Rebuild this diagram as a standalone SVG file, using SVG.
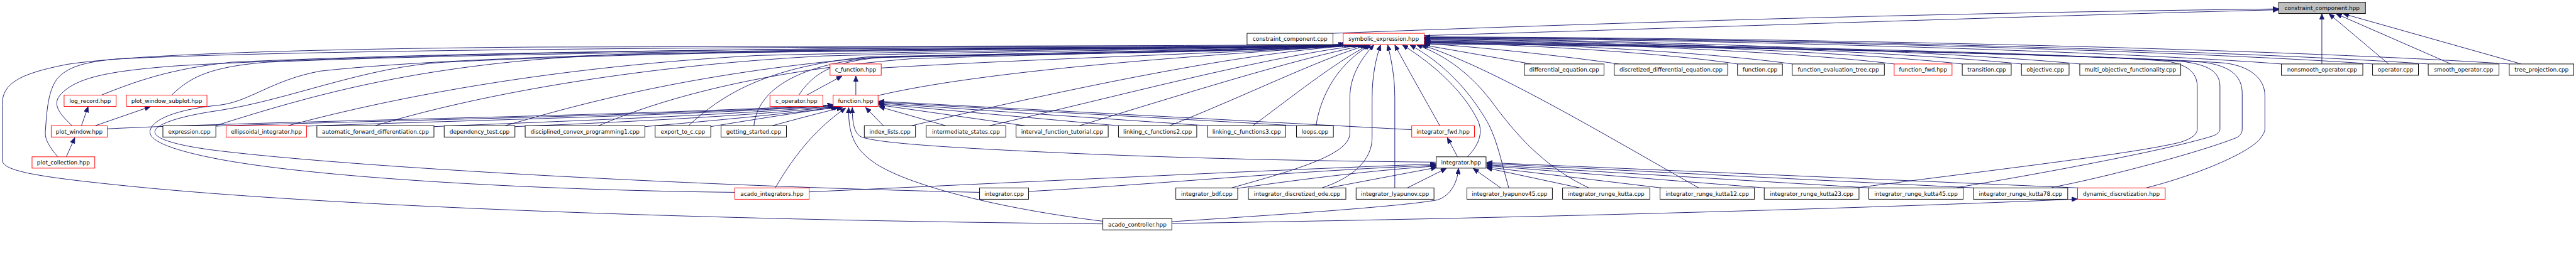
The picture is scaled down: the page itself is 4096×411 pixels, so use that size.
<svg xmlns="http://www.w3.org/2000/svg" width="4096" height="411" viewBox="0 0 4096 411">
<style>
.n rect{fill:#ffffff;stroke:#000000;stroke-width:1.33}
.n.r rect{stroke:#ff0000}
.n.g rect{fill:#bfbfbf}
.n text{font-family:"DejaVu Sans","Liberation Sans",sans-serif;font-size:12.6px;text-anchor:middle;fill:#000000}
.e path{fill:none;stroke:#191970;stroke-width:1.33;marker-end:url(#ah)}
</style>
<defs>
<marker id="ah" markerUnits="userSpaceOnUse" viewBox="0 0 13 11" markerWidth="13" markerHeight="11" refX="13" refY="5.5" orient="auto">
<path d="M0,0 L13,5.5 L0,11 Z" fill="#191970" stroke="#191970" stroke-width="1"/>
</marker>
</defs>
<rect x="0" y="0" width="4096" height="411" fill="#ffffff"/>
<g transform="scale(0.707671)">
<g id="edges" class="e">
<!-- to constraint_component.hpp -->
<path d="M2995,75 C3600,52 4300,30 5120,20"/>
<path d="M3200,80 C3800,63 4600,35 5120,22"/>
<path d="M5217,144 L5217,31"/>
<path d="M5367,144 L5233,31"/>
<path d="M5507,144 L5249,31"/>
<path d="M5665,144 L5265,31"/>
<!-- to symbolic_expression.hpp from the right -->
<path d="M3440,144 C3380,133 3260,112 3196,101"/>
<path d="M3637,144 C3520,127 3330,106 3201,98"/>
<path d="M3904,144 C3760,122 3450,100 3201,96"/>
<path d="M4027,144 C3860,120 3500,98 3201,94"/>
<path d="M4256,144 C4050,118 3580,96 3201,92"/>
<path d="M4409,144 C4170,118 3620,94 3201,90"/>
<path d="M4542,144 C4280,117 3660,92 3201,88"/>
<path d="M4673,144 C4380,116 3700,90 3201,87"/>
<path d="M5126,144 C4750,115 3850,88 3201,86"/>
<path d="M5331,144 C4900,114 3950,87 3201,85"/>
<path d="M5456,144 C5000,113 4000,86 3201,84"/>
<path d="M5638,144 C5150,112 4100,85 3201,83"/>
<path d="M4177,422 C4500,380 4800,345 4900,320 C4930,310 4937,300 4937,290 L4937,195 C4937,160 4910,145 4870,138 C4600,115 3600,98 3201,93"/>
<path d="M4398,422 C4650,380 4900,330 4975,305 C4985,300 4988,295 4988,290 L4988,195 C4988,160 4960,145 4900,138 C4600,118 3600,100 3201,95"/>
<path d="M4610,422 C4750,395 4950,340 5025,310 C5035,305 5038,298 5038,290 L5038,210 C5038,170 5010,148 4950,140 C4650,120 3600,100 3201,97"/>
<path d="M4822,423 C4950,390 5060,340 5080,310 C5087,300 5089,295 5089,290 L5089,215 C5089,180 5060,150 5000,142 C4700,120 3600,101 3201,99"/>
<!-- to symbolic_expression.hpp from below -->
<path d="M2767,423 C2900,385 3033,350 3033,300 L3033,220 C3033,170 3060,130 3087,101"/>
<path d="M2970,423 C3040,400 3083,360 3083,310 L3083,220 C3083,170 3092,130 3102,101"/>
<path d="M3134,423 L3134,220 C3134,170 3125,130 3118,101"/>
<path d="M3235,283 C3200,220 3160,150 3134,101"/>
<path d="M3297,353 C3320,330 3335,300 3320,270 C3290,210 3230,150 3151,101"/>
<path d="M3390,423 C3375,370 3365,320 3345,280 C3300,200 3240,140 3168,101"/>
<path d="M3570,423 C3480,380 3420,320 3360,240 C3310,170 3250,125 3183,101"/>
<path d="M3817,423 C3600,300 3350,150 3193,101"/>
<!-- to symbolic_expression.hpp from the left -->
<path d="M2478,504 C1500,495 700,460 300,420 C80,398 5,385 5,360 L5,235 C5,185 50,165 150,145 C300,122 700,110 1200,106 C2000,104 2800,103 3020,100"/>
<path d="M130,353 C110,330 100,312 102,295 C105,250 108,205 128,178 C150,152 185,140 260,133 C600,115 1400,108 2000,106 C2500,105 2850,104 3024,100"/>
<path d="M162,283 C140,262 118,240 132,218 C165,175 240,160 400,148 C800,125 1500,112 2100,108 C2600,106 2880,105 3028,100"/>
<path d="M228,214 C300,185 380,155 520,140 C1000,118 1700,110 2200,108 C2650,107 2890,106 3032,100"/>
<path d="M386,214 C430,170 480,150 600,140 C1000,122 1800,112 2300,109 C2700,108 2900,107 3036,100"/>
<path d="M1651,433 C1200,428 700,400 480,356 C390,338 335,318 337,296 C340,268 400,246 490,237 C560,230 610,180 720,160 C1100,118 2000,110 2400,109 C2750,108 2920,107 3040,100"/>
<path d="M2201,433 C1600,420 800,378 480,338 C395,327 346,312 348,296 C350,280 400,262 490,249 C650,225 820,150 1000,140 C1500,115 2200,110 2500,109 C2800,108 2930,107 3042,100"/>
<path d="M484,283 C700,215 950,140 1400,122 C2000,112 2800,110 3044,100"/>
<path d="M647,283 C900,215 1250,150 1700,125 C2200,112 2800,110 3046,100"/>
<path d="M843,283 C1050,220 1400,150 1850,126 C2300,114 2820,111 3048,100"/>
<path d="M1135,283 C1300,235 1550,165 1950,130 C2400,116 2840,112 3050,100"/>
<path d="M1345,283 C1480,225 1700,160 2050,132 C2500,118 2850,113 3052,100"/>
<path d="M1547,283 C1620,215 1720,150 1950,128 C2400,118 2860,114 3054,100"/>
<path d="M1694,283 C1700,220 1760,150 1960,130 C2450,119 2870,115 3056,100"/>
<path d="M1795,214 C1830,160 1880,135 2000,128 C2450,120 2880,116 3058,100"/>
<path d="M1980,153 C2400,128 2850,118 3060,100"/>
<path d="M1973,215 C2250,150 2800,120 3062,100"/>
<path d="M2048,283 C2400,200 2800,115 3064,101"/>
<path d="M2223,283 C2500,220 2850,125 3067,101"/>
<path d="M2425,283 C2650,215 2900,135 3070,101"/>
<path d="M2628,283 C2800,215 2960,135 3073,101"/>
<path d="M2815,283 C2900,220 3000,140 3076,101"/>
<path d="M2957,283 C2968,210 3010,140 3080,101"/>
<!-- to function.hpp -->
<path d="M241,290 C600,272 1400,262 1872,236"/>
<path d="M484,284 C800,272 1450,262 1873,237"/>
<path d="M689,284 C1000,272 1500,262 1874,238"/>
<path d="M975,285 C1200,275 1600,262 1876,239"/>
<path d="M1157,285 C1400,275 1700,260 1879,240"/>
<path d="M1449,285 C1600,272 1780,255 1882,241"/>
<path d="M1597,285 C1700,268 1800,252 1886,241"/>
<path d="M1735,283 C1790,268 1850,252 1893,242"/>
<path d="M1742,423 C1790,340 1840,285 1900,243"/>
<path d="M2478,498 C2250,470 2050,420 1970,370 C1925,340 1905,310 1907,242"/>
<path d="M3227,365 C2900,362 2600,355 2300,340 C2050,328 1960,318 1935,308 C1920,300 1915,280 1915,242"/>
<path d="M1985,283 L1945,242"/>
<path d="M2125,283 L1975,240"/>
<path d="M2303,283 L1974,236"/>
<path d="M2513,283 L1974,234"/>
<path d="M2713,283 L1974,232"/>
<path d="M2913,283 L1974,230"/>
<path d="M3172,292 L1974,228"/>
<!-- to c_function.hpp -->
<path d="M1923,214 L1923,171"/>
<path d="M1813,214 L1892,171"/>
<!-- plot headers -->
<path d="M183,283 L198,240"/>
<path d="M214,283 L338,240"/>
<path d="M149,353 L168,310"/>
<!-- to integrator_fwd.hpp -->
<path d="M3275,353 L3252,310"/>
<!-- to integrator.hpp -->
<path d="M1818,432 C2300,410 2800,385 3227,369"/>
<path d="M2311,431 C2600,415 2900,385 3227,372"/>
<path d="M2781,424 C2950,400 3100,382 3227,374"/>
<path d="M2985,423 C3080,405 3170,388 3228,377"/>
<path d="M2633,499 C2850,485 3150,465 3230,450 C3260,440 3275,410 3277,379"/>
<path d="M3162,423 L3250,379"/>
<path d="M3372,423 L3310,379"/>
<path d="M3550,423 L3340,378"/>
<path d="M3733,423 L3340,376"/>
<path d="M3966,423 L3340,373"/>
<path d="M4201,423 L3340,371"/>
<path d="M4436,423 L3340,368"/>
<path d="M4670,423 L3340,366"/>
<!-- to dynamic_discretization.hpp -->
<path d="M2633,503 C3500,490 4300,465 4668,448"/>
</g>
<g id="nodes">
<g id="n_cch" class="n g"><rect x="5120" y="5" width="195" height="25.5"/><text x="5217.5" y="22.5">constraint_component.hpp</text></g>
<g id="n_ccc" class="n"><rect x="2802" y="75" width="193" height="25.5"/><text x="2898.5" y="92.5">constraint_component.cpp</text></g>
<g id="n_seh" class="n r"><rect x="3018" y="75" width="182" height="25.5"/><text x="3109" y="92.5">symbolic_expression.hpp</text></g>
<g id="n_cfun" class="n r"><rect x="1865" y="144" width="115" height="25.5"/><text x="1922.5" y="161.5">c_function.hpp</text></g>
<g id="n_deq" class="n"><rect x="3425" y="144" width="179" height="25.5"/><text x="3514.5" y="161.5">differential_equation.cpp</text></g>
<g id="n_ddeq" class="n"><rect x="3627" y="144" width="255" height="25.5"/><text x="3754.5" y="161.5">discretized_differential_equation.cpp</text></g>
<g id="n_fcpp" class="n"><rect x="3904" y="144" width="101" height="25.5"/><text x="3954.5" y="161.5">function.cpp</text></g>
<g id="n_fet" class="n"><rect x="4027" y="144" width="207" height="25.5"/><text x="4130.5" y="161.5">function_evaluation_tree.cpp</text></g>
<g id="n_ffwd" class="n r"><rect x="4256" y="144" width="130" height="25.5"/><text x="4321" y="161.5">function_fwd.hpp</text></g>
<g id="n_trans" class="n"><rect x="4409" y="144" width="110" height="25.5"/><text x="4464" y="161.5">transition.cpp</text></g>
<g id="n_obj" class="n"><rect x="4542" y="144" width="107" height="25.5"/><text x="4595.5" y="161.5">objective.cpp</text></g>
<g id="n_mof" class="n"><rect x="4673" y="144" width="227" height="25.5"/><text x="4786.5" y="161.5">multi_objective_functionality.cpp</text></g>
<g id="n_nso" class="n"><rect x="5126" y="144" width="183" height="25.5"/><text x="5217.5" y="161.5">nonsmooth_operator.cpp</text></g>
<g id="n_op" class="n"><rect x="5331" y="144" width="103" height="25.5"/><text x="5382.5" y="161.5">operator.cpp</text></g>
<g id="n_sop" class="n"><rect x="5456" y="144" width="159" height="25.5"/><text x="5535.5" y="161.5">smooth_operator.cpp</text></g>
<g id="n_tp" class="n"><rect x="5638" y="144" width="145" height="25.5"/><text x="5710.5" y="161.5">tree_projection.cpp</text></g>
<g id="n_log" class="n r"><rect x="144" y="214" width="117" height="25.5"/><text x="202.5" y="231.5">log_record.hpp</text></g>
<g id="n_pws" class="n r"><rect x="284" y="214" width="181" height="25.5"/><text x="374.5" y="231.5">plot_window_subplot.hpp</text></g>
<g id="n_cop" class="n r"><rect x="1730" y="214" width="119" height="25.5"/><text x="1789.5" y="231.5">c_operator.hpp</text></g>
<g id="n_fhpp" class="n r"><rect x="1872" y="214" width="101" height="25.5"/><text x="1922.5" y="231.5">function.hpp</text></g>
<g id="n_pw" class="n r"><rect x="115" y="283" width="126" height="25.5"/><text x="178" y="300.5">plot_window.hpp</text></g>
<g id="n_expr" class="n"><rect x="366" y="283" width="119" height="25.5"/><text x="425.5" y="300.5">expression.cpp</text></g>
<g id="n_ell" class="n r"><rect x="508" y="283" width="181" height="25.5"/><text x="598.5" y="300.5">ellipsoidal_integrator.hpp</text></g>
<g id="n_afd" class="n"><rect x="712" y="283" width="263" height="25.5"/><text x="843.5" y="300.5">automatic_forward_differentiation.cpp</text></g>
<g id="n_dep" class="n"><rect x="998" y="283" width="159" height="25.5"/><text x="1077.5" y="300.5">dependency_test.cpp</text></g>
<g id="n_dcp" class="n"><rect x="1180" y="283" width="269" height="25.5"/><text x="1314.5" y="300.5">disciplined_convex_programming1.cpp</text></g>
<g id="n_exp" class="n"><rect x="1472" y="283" width="125" height="25.5"/><text x="1534.5" y="300.5">export_to_c.cpp</text></g>
<g id="n_gs" class="n"><rect x="1620" y="283" width="147" height="25.5"/><text x="1693.5" y="300.5">getting_started.cpp</text></g>
<g id="n_idx" class="n"><rect x="1942" y="283" width="115" height="25.5"/><text x="1999.5" y="300.5">index_lists.cpp</text></g>
<g id="n_ims" class="n"><rect x="2081" y="283" width="179" height="25.5"/><text x="2170.5" y="300.5">intermediate_states.cpp</text></g>
<g id="n_ift" class="n"><rect x="2283" y="283" width="207" height="25.5"/><text x="2386.5" y="300.5">interval_function_tutorial.cpp</text></g>
<g id="n_lc2" class="n"><rect x="2513" y="283" width="176" height="25.5"/><text x="2601" y="300.5">linking_c_functions2.cpp</text></g>
<g id="n_lc3" class="n"><rect x="2713" y="283" width="176" height="25.5"/><text x="2801" y="300.5">linking_c_functions3.cpp</text></g>
<g id="n_loops" class="n"><rect x="2913" y="283" width="83" height="25.5"/><text x="2954.5" y="300.5">loops.cpp</text></g>
<g id="n_ifwd" class="n r"><rect x="3172" y="283" width="141" height="25.5"/><text x="3242.5" y="300.5">integrator_fwd.hpp</text></g>
<g id="n_pc" class="n r"><rect x="72" y="353" width="141" height="25.5"/><text x="142.5" y="370.5">plot_collection.hpp</text></g>
<g id="n_ihpp" class="n"><rect x="3227" y="353" width="112" height="25.5"/><text x="3283" y="370.5">integrator.hpp</text></g>
<g id="n_ai" class="n r"><rect x="1651" y="423" width="167" height="25.5"/><text x="1734.5" y="440.5">acado_integrators.hpp</text></g>
<g id="n_icpp" class="n"><rect x="2201" y="423" width="110" height="25.5"/><text x="2256" y="440.5">integrator.cpp</text></g>
<g id="n_bdf" class="n"><rect x="2642" y="423" width="139" height="25.5"/><text x="2711.5" y="440.5">integrator_bdf.cpp</text></g>
<g id="n_dode" class="n"><rect x="2805" y="423" width="219" height="25.5"/><text x="2914.5" y="440.5">integrator_discretized_ode.cpp</text></g>
<g id="n_lya" class="n"><rect x="3047" y="423" width="175" height="25.5"/><text x="3134.5" y="440.5">integrator_lyapunov.cpp</text></g>
<g id="n_lya45" class="n"><rect x="3296" y="423" width="192" height="25.5"/><text x="3392" y="440.5">integrator_lyapunov45.cpp</text></g>
<g id="n_rk" class="n"><rect x="3511" y="423" width="196" height="25.5"/><text x="3609" y="440.5">integrator_runge_kutta.cpp</text></g>
<g id="n_rk12" class="n"><rect x="3730" y="423" width="212" height="25.5"/><text x="3836" y="440.5">integrator_runge_kutta12.cpp</text></g>
<g id="n_rk23" class="n"><rect x="3964" y="423" width="213" height="25.5"/><text x="4070.5" y="440.5">integrator_runge_kutta23.cpp</text></g>
<g id="n_rk45" class="n"><rect x="4199" y="423" width="212" height="25.5"/><text x="4305" y="440.5">integrator_runge_kutta45.cpp</text></g>
<g id="n_rk78" class="n"><rect x="4434" y="423" width="212" height="25.5"/><text x="4540" y="440.5">integrator_runge_kutta78.cpp</text></g>
<g id="n_dyn" class="n r"><rect x="4668" y="423" width="197" height="25.5"/><text x="4766.5" y="440.5">dynamic_discretization.hpp</text></g>
<g id="n_ac" class="n"><rect x="2478" y="492" width="155" height="25.5"/><text x="2555.5" y="509.5">acado_controller.hpp</text></g>
</g>
</g>
</svg>
